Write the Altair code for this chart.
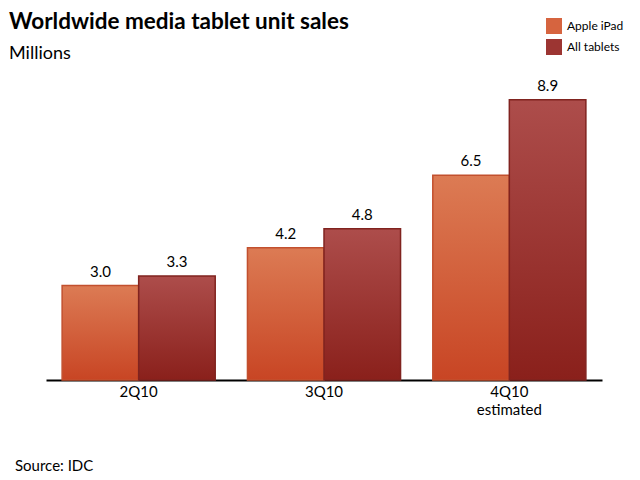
import altair as alt
import pandas as pd

quarters = ["2Q10", "3Q10", "4Q10"]
apple_ipad = [3.0, 4.2, 6.5]
all_tablets = [3.3, 4.8, 8.9]
series = ["Apple iPad", "All tablets"]

df = pd.DataFrame(
    {
        "quarter": quarters * 2,
        "series": [series[0]] * 3 + [series[1]] * 3,
        "value": apple_ipad + all_tablets,
    }
)
df["label"] = df["value"].map(lambda v: f"{v:.1f}")

FONT = "Lato"

x_enc = alt.X(
    "quarter:N",
    sort=quarters,
    scale=alt.Scale(paddingInner=0.174, paddingOuter=0.087),
    axis=alt.Axis(
        title=None,
        labelAngle=0,
        ticks=False,
        domainColor="black",
        domainWidth=2,
        labelFont=FONT,
        labelFontSize=15,
        labelColor="black",
        labelPadding=4,
        labelLineHeight=18,
        labelExpr="datum.value == '4Q10' ? ['4Q10', 'estimated'] : datum.value",
    ),
)
y_enc = alt.Y("value:Q", scale=alt.Scale(domain=[0, 10]), axis=None)
xoff = alt.XOffset("series:N", sort=series, scale=alt.Scale(paddingInner=0))

base = alt.Chart(df).encode(x=x_enc, xOffset=xoff, y=y_enc)


def grad(top, bottom):
    return alt.Gradient(
        gradient="linear",
        stops=[alt.GradientStop(color=top, offset=0), alt.GradientStop(color=bottom, offset=1)],
        x1=0, x2=0, y1=0, y2=1,
    )


# invisible layer only to carry the legend
legend_layer = base.mark_bar(opacity=0).encode(
    color=alt.Color(
        "series:N",
        sort=series,
        scale=alt.Scale(domain=series, range=["#d6643f", "#9c3532"]),
        legend=alt.Legend(
            title=None,
            orient="none",
            legendX=500,
            legendY=-47,
            symbolType="square",
            symbolSize=256,
            symbolOpacity=1,
            symbolStrokeWidth=0,
            labelFont=FONT,
            labelFontSize=12,
            labelColor="black",
            rowPadding=5,
            labelOffset=5,
        ),
    )
)

apple_bars = (
    base.transform_filter(alt.datum.series == "Apple iPad")
    .mark_bar(fill=grad("#dc7b54", "#c84524"), stroke="#c2502e", strokeWidth=1.5)
)
all_bars = (
    base.transform_filter(alt.datum.series == "All tablets")
    .mark_bar(fill=grad("#ad4d4b", "#8a201b"), stroke="#80231f", strokeWidth=1.5)
)

labels = base.mark_text(
    dy=-14, font=FONT, fontSize=15, color="black"
).encode(text="label:N")

texts = pd.DataFrame({"t": ["Worldwide media tablet unit sales", "Millions", "Source: IDC"]})


def text_line(content, x, y, size, weight="normal"):
    return (
        alt.Chart(texts)
        .transform_filter(alt.datum.t == content)
        .mark_text(align="left", baseline="middle", font=FONT, fontSize=size,
                   fontWeight=weight, color="black")
        .encode(text="t:N", x=alt.value(x), y=alt.value(y))
    )


title = text_line("Worldwide media tablet unit sales", -37, -43, 22.5, "bold")
subtitle = text_line("Millions", -37, -11, 18)
source = text_line("Source: IDC", -31, 401, 15)

chart = (
    alt.layer(legend_layer, apple_bars, all_bars, labels, title, subtitle, source)
    .properties(
        width=556,
        height=315,
        autosize="none",
        padding={"left": 38, "top": 57, "right": 30, "bottom": 96},
    )
    .configure_view(stroke=None)
)

chart.save("out.html", embed_options={"renderer": "svg", "actions": False})
